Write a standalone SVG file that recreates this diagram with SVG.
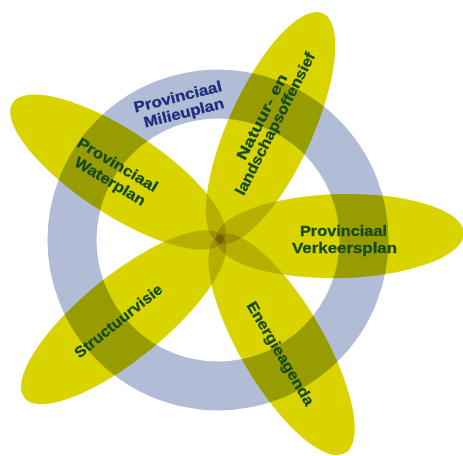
<svg xmlns="http://www.w3.org/2000/svg" width="463" height="456" viewBox="0 0 463 456">
<style>
.petal{fill:#d9d400;mix-blend-mode:multiply}
.lbl{font-family:"Liberation Sans",Arial,sans-serif;font-weight:700;font-size:15px;text-anchor:middle;fill:#154a1e;stroke:#154a1e;stroke-width:0.3}
.navy{fill:#1e2c7c;stroke:#1e2c7c}
</style>
<rect width="463" height="456" fill="#ffffff"/>
<g id="ring">
<circle cx="218" cy="240" r="146" fill="none" stroke="#b1bdd6" stroke-width="49"/>
</g>
<g id="petals">
<g id="petal-natuur"><ellipse class="petal" cx="0" cy="0" rx="126" ry="42" transform="translate(220,239) rotate(-65.5) translate(122,0)"/></g>
<g id="petal-verkeer"><ellipse class="petal" cx="0" cy="0" rx="124" ry="42" transform="translate(220,239) rotate(-1.4) translate(120,0)"/></g>
<g id="petal-energie"><ellipse class="petal" cx="0" cy="0" rx="126" ry="42" transform="translate(220,239) rotate(59.7) translate(122,0)"/></g>
<g id="petal-structuur"><ellipse class="petal" cx="0" cy="0" rx="128" ry="42" transform="translate(220,239) rotate(140.9) translate(124,0)"/></g>
<g id="petal-water"><ellipse class="petal" cx="0" cy="0" rx="126" ry="42" transform="translate(220,239) rotate(213.3) translate(122,0)"/></g>
</g>
<g id="labels">
<g id="label-milieu" transform="translate(180,105.5) rotate(-14)">
<text class="lbl navy" x="0" y="-4" textLength="90" lengthAdjust="spacingAndGlyphs">Provinciaal</text>
<text class="lbl navy" x="2" y="13" textLength="82" lengthAdjust="spacingAndGlyphs">Milieuplan</text>
</g>
<g id="label-water" transform="translate(113,172.5) rotate(31)">
<text class="lbl" x="0" y="-4" textLength="91" lengthAdjust="spacingAndGlyphs">Provinciaal</text>
<text class="lbl" x="2" y="14" textLength="80" lengthAdjust="spacingAndGlyphs">Waterplan</text>
</g>
<g id="label-natuur" transform="translate(269,120.5) rotate(-63)">
<text class="lbl" x="0" y="-3" textLength="94" lengthAdjust="spacingAndGlyphs">Natuur- en</text>
<text class="lbl" x="0" y="12" textLength="158" lengthAdjust="spacingAndGlyphs">landschapsoffensief</text>
</g>
<g id="label-verkeer">
<text class="lbl" x="343.5" y="236" textLength="87" lengthAdjust="spacingAndGlyphs">Provinciaal</text>
<text class="lbl" x="344.5" y="253" textLength="105" lengthAdjust="spacingAndGlyphs">Verkeersplan</text>
</g>
<g id="label-structuur" transform="translate(118.5,321) rotate(-38.8)">
<text class="lbl" x="0" y="5" textLength="108" lengthAdjust="spacingAndGlyphs">Structuurvisie</text>
</g>
<g id="label-energie" transform="translate(280.5,353.5) rotate(59.4)">
<text class="lbl" x="0" y="5" textLength="118" lengthAdjust="spacingAndGlyphs">Energieagenda</text>
</g>
</g>
</svg>
